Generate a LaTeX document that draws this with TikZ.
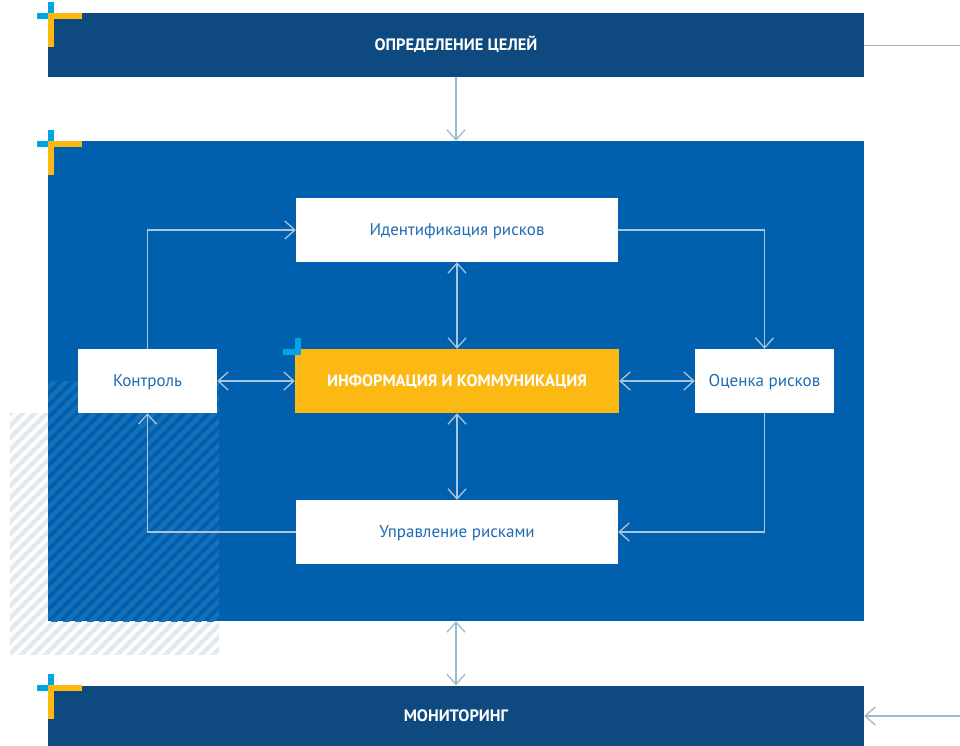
\documentclass[tikz,border=0pt]{standalone}
\usepackage{fontspec}
\setmainfont{PT Sans}
\usetikzlibrary{arrows.meta}
\definecolor{navy}{HTML}{0E4A7F}
\definecolor{mainblue}{HTML}{0060AD}
\definecolor{gold}{HTML}{FDB913}
\definecolor{cyanm}{HTML}{00A6E3}
\definecolor{linec}{HTML}{A9C5DD}
\definecolor{lineo}{HTML}{9CBACB}
\definecolor{txtblue}{HTML}{1F6BB4}
\definecolor{hatchl}{HTML}{E2EAF0}
\definecolor{hatchd}{HTML}{1570BA}
\begin{document}
\begin{tikzpicture}[x=1pt,y=-1pt,
  tip/.tip={Straight Barb[length=10pt,width=18pt,line width=1.3pt]},
  wbox/.style={rectangle, fill=white, inner sep=0pt, minimum height=64pt, text=txtblue,
    text height=11pt, text depth=0pt, font=\fontsize{17}{20}\selectfont},
  bar/.style={rectangle, fill=navy, inner sep=0pt, minimum width=816pt, text=white,
    text height=11pt, text depth=0pt, font=\fontsize{16.5}{19}\selectfont\bfseries},
  conn/.style={draw=linec, line width=1.3pt},
  connout/.style={draw=lineo, line width=1.3pt},
  corner/.pic={
    \fill[cyanm] (0,-11) rectangle (6,0);
    \fill[cyanm] (-11,0) rectangle (0,6);
    \fill[gold] (0,0) rectangle (34,6);
    \fill[gold] (0,0) rectangle (6,34);
  }]
\useasboundingbox (0,0) rectangle (960,746);
\fill[white] (0,0) rectangle (960,746);
% light hatch behind the main box
\begin{scope}
  \clip (10,413) rectangle (219,654);
  \foreach \i in {-360,-348,...,240}
    \draw[hatchl, line width=4.5pt] (\i,700) -- ++(400,-400);
\end{scope}
% bars and main box
\node[bar, minimum height=64pt] (goal) at (456,45) {ОПРЕДЕЛЕНИЕ ЦЕЛЕЙ};
\node[rectangle, fill=mainblue, inner sep=0pt, minimum width=816pt, minimum height=480pt] (main) at (456,381) {};
\node[bar, minimum height=61pt] (mon) at (456,716) {МОНИТОРИНГ};
% dark hatch on the main box
\begin{scope}
  \clip (48,381) rectangle (219,621);
  \foreach \i in {-360,-348,...,240}
    \draw[hatchd, line width=4.5pt] (\i,700) -- ++(400,-400);
\end{scope}
\pic at (48,13) {corner};
\pic at (48,141) {corner};
\pic at (48,685) {corner};
% inner nodes
\node[wbox, minimum width=322pt] (ident) at (457,230) {Идентификация рисков};
\node[wbox, minimum width=139pt] (kontrol) at (147.5,381) {Контроль};
\node[wbox, minimum width=139pt] (ocenka) at (764.5,381) {Оценка рисков};
\node[wbox, minimum width=322pt] (uprav) at (457,532) {Управление рисками};
\node[rectangle, fill=gold, inner sep=0pt, minimum width=324pt, minimum height=64pt, text=white,
  text height=11pt, text depth=0pt,
  font=\fontsize{16.5}{19}\selectfont\bfseries] (info) at (457,381) {ИНФОРМАЦИЯ И КОММУНИКАЦИЯ};
\fill[cyanm] (295,338) rectangle (301,355);
\fill[cyanm] (283,349) rectangle (301,355);
% inner connectors
\draw[conn, -tip] (kontrol.north) |- (ident.west);
\draw[conn, -tip] (ident.east) -| (ocenka.north);
\draw[conn, -tip] (ocenka.south) |- (uprav.east);
\draw[conn, -tip] (uprav.west) -| (kontrol.south);
\draw[conn, tip-tip] (kontrol.east) -- (info.west);
\draw[conn, tip-tip] (info.east) -- (ocenka.west);
\draw[conn, tip-tip] (ident.south) -- (info.north);
\draw[conn, tip-tip] (info.south) -- (uprav.north);
% outer connectors
\coordinate (rt) at (960,45.5);
\coordinate (rb) at (960,716);
\draw[connout, -tip] (goal.south) -- (main.north);
\draw[connout, tip-tip] (main.south) -- (mon.north);
\draw[connout] (goal.east |- rt) -- (rt);
\draw[connout, -tip] (rb) -- (mon.east |- rb);
\end{tikzpicture}
\end{document}
